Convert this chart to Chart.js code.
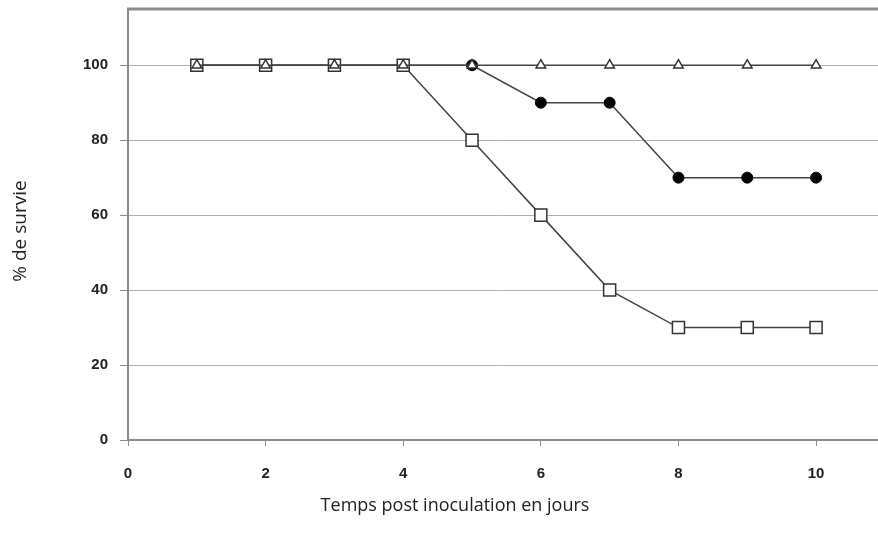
<!DOCTYPE html>
<html>
<head>
<meta charset="utf-8">
<script src="https://cdn.jsdelivr.net/npm/chart.js@4"></script>
<style>
  html, body { margin: 0; padding: 0; background: #fff; }
  #wrap { width: 878px; height: 542px; }
</style>
</head>
<body>
<div id="wrap"><canvas id="graphe"></canvas></div>
<script>
// donnees
const jours = [1, 2, 3, 4, 5, 6, 7, 8, 9, 10];
const survieTriangle = [100, 100, 100, 100, 100, 100, 100, 100, 100, 100];
const survieCarre = [100, 100, 100, 100, 80, 60, 40, 30, 30, 30];
const survieRond = [100, 100, 100, 100, 100, 90, 90, 70, 70, 70];
const ticksX = [0, 2, 4, 6, 8, 10];
const ticksY = [0, 20, 40, 60, 80, 100];

function points(valeurs) {
  return jours.map((j, i) => ({ x: j, y: valeurs[i] }));
}

// titres des axes + bord du haut
const decor = {
  id: 'decor',
  afterDraw(chart) {
    const ctx = chart.ctx;
    const a = chart.chartArea;
    ctx.save();
    ctx.strokeStyle = '#8c8c8c';
    ctx.lineWidth = 3;
    ctx.beginPath();
    ctx.moveTo(a.left - 1, a.top);
    ctx.lineTo(a.right, a.top);
    ctx.stroke();

    ctx.fillStyle = '#222';
    ctx.font = '18px "Open Sans"';
    ctx.textAlign = 'center';
    ctx.textBaseline = 'middle';
    ctx.fillText('Temps post inoculation en jours', 455, 506);
    ctx.font = '19px "Open Sans"';
    ctx.translate(21, 231);
    ctx.rotate(-Math.PI / 2);
    ctx.fillText('% de survie', 0, 0);
    ctx.restore();
  }
};

new Chart(document.getElementById('graphe'), {
  type: 'line',
  data: {
    datasets: [
      {
        label: 'triangle',
        data: points(survieTriangle),
        borderColor: '#444',
        borderWidth: 1.5,
        pointStyle: 'triangle',
        pointRadius: 5.5,
        pointBackgroundColor: '#fff',
        pointBorderColor: '#333',
        pointBorderWidth: 1.5
      },
      {
        label: 'carre',
        data: points(survieCarre),
        borderColor: '#444',
        borderWidth: 1.5,
        pointStyle: 'rect',
        pointRadius: 8.5,
        pointBackgroundColor: '#fff',
        pointBorderColor: '#333',
        pointBorderWidth: 1.5
      },
      {
        label: 'rond',
        data: points(survieRond),
        borderColor: '#444',
        borderWidth: 1.5,
        pointStyle: 'circle',
        pointRadius: 5.5,
        pointBackgroundColor: '#000',
        pointBorderColor: '#000',
        pointBorderWidth: 1
      }
    ]
  },
  options: {
    responsive: true,
    maintainAspectRatio: false,
    animation: false,
    layout: {
      autoPadding: false,
      padding: { left: 0, right: 0, top: 9, bottom: 0 }
    },
    plugins: {
      legend: { display: false },
      tooltip: { enabled: false }
    },
    scales: {
      x: {
        type: 'linear',
        min: 0,
        max: 10.9,
        afterBuildTicks(scale) { scale.ticks = ticksX.map(v => ({ value: v })); },
        afterFit(scale) {
          scale.height = 102;
          scale.paddingRight = 0;
        },
        border: { display: true, color: '#8c8c8c', width: 2 },
        grid: {
          drawOnChartArea: false,
          drawTicks: true,
          tickLength: 6,
          tickColor: '#8c8c8c',
          tickWidth: 1
        },
        ticks: {
          padding: 19,
          color: '#222',
          font: { family: '"Liberation Sans", Arial', size: 15, weight: 'bold' },
          maxRotation: 0
        }
      },
      y: {
        min: 0,
        max: 115,
        afterBuildTicks(scale) { scale.ticks = ticksY.map(v => ({ value: v })); },
        afterFit(scale) {
          scale.width = 128;
          scale.paddingTop = 0;
        },
        border: { display: true, color: '#8c8c8c', width: 2 },
        grid: {
          color: ctx => ctx.tick && ctx.tick.value === 0 ? 'rgba(0,0,0,0)' : '#b0b0b0',
          lineWidth: 1,
          borderDash: [1, 2],
          tickBorderDash: [],
          tickColor: '#8c8c8c',
          tickLength: 8,
          tickWidth: 1
        },
        ticks: {
          padding: 12,
          color: '#222',
          font: { family: '"Liberation Sans", Arial', size: 15, weight: 'bold' }
        }
      }
    }
  },
  plugins: [decor]
});
</script>
</body>
</html>
